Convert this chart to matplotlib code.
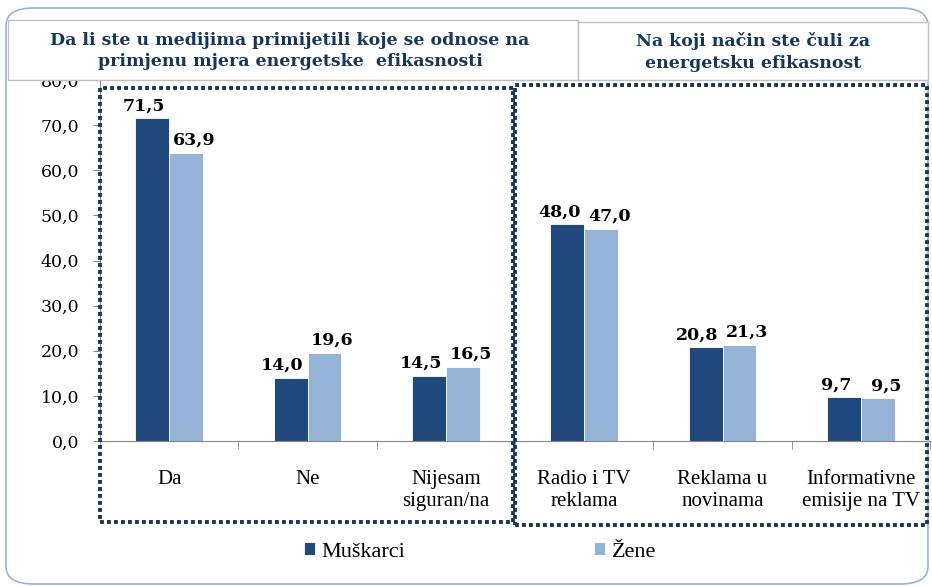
import numpy as np
import matplotlib.pyplot as plt
from matplotlib.patches import FancyBboxPatch, Rectangle

categories = ["Da", "Ne", "Nijesam\nsiguran/na", "Radio i TV\nreklama",
              "Reklama u\nnovinama", "Informativne\nemisije na TV"]
muskarci = [71.5, 14.0, 14.5, 48.0, 20.8, 9.7]
zene = [63.9, 19.6, 16.5, 47.0, 21.3, 9.5]
yticks = [0, 10, 20, 30, 40, 50, 60, 70, 80]
title_left = "Da li ste u medijima primijetili koje se odnose na\nprimjenu mjera energetske  efikasnosti"
title_right = "Na koji način ste čuli za\nenergetsku efikasnost"

dark = "#1f497d"
light = "#95b3d7"
navy = "#17365d"
W, H = 932, 587
wide = ['DejaVu Serif']

plt.rcParams['font.family'] = ['Liberation Serif', 'DejaVu Serif']

fig = plt.figure(figsize=(W / 100, H / 100), dpi=100)

def fx(px):
    return px / W

def fy(py):
    return 1 - py / H

# outer rounded frame
fig.patches.append(FancyBboxPatch((fx(6), fy(584)), fx(922), 576 / H,
                                  boxstyle="round,pad=0,rounding_size=0.03",
                                  transform=fig.transFigure, fill=False,
                                  edgecolor="#8eb4e3", linewidth=1.2, zorder=0))

ax = fig.add_axes([fx(100), fy(441), fx(830), (441 - 80) / H])
x = np.arange(len(categories))
bw = 0.245
b1 = ax.bar(x - bw / 2, muskarci, bw, color=dark, edgecolor="white", linewidth=0.6, label="Muškarci")
b2 = ax.bar(x + bw / 2, zene, bw, color=light, edgecolor="white", linewidth=0.6, label="Žene")

# value labels, nudged apart so neighbours don't collide
for bars, vals, dx in ((b1, muskarci, -8), (b2, zene, 8)):
    for r, v in zip(bars, vals):
        ax.annotate(f"{v:.1f}".replace(".", ","), (r.get_x() + r.get_width() / 2, v),
                    xytext=(dx, 4), textcoords="offset pixels",
                    ha="center", va="bottom", fontsize=12.5, fontweight="bold",
                    color="black", family=wide)

ax.set_xlim(-0.5, len(categories) - 0.5)
ax.set_ylim(0, 80)
ax.set_yticks(yticks)
ax.set_yticklabels([f"{t:.1f}".replace(".", ",") for t in yticks], fontsize=12.5, family=wide)
ax.set_xticks(x)
ax.set_xticklabels(categories, fontsize=15, linespacing=1.2)
ax.set_xticks(np.arange(-0.5, len(categories), 1), minor=True)
ax.tick_params(axis="x", which="major", length=0, pad=21)
ax.tick_params(axis="x", which="minor", length=6, color="#868686", direction="out")
ax.tick_params(axis="y", length=5, color="#868686", pad=10)
for s in ("top", "right"):
    ax.spines[s].set_visible(False)
ax.spines["left"].set_color("#868686")
ax.spines["bottom"].set_color("#868686")

# title boxes
fig.patches.append(Rectangle((fx(8), fy(80)), fx(570), 60 / H, transform=fig.transFigure,
                             facecolor="white", edgecolor="#bfbfbf", linewidth=1, zorder=5))
fig.patches.append(Rectangle((fx(578), fy(80)), fx(350), 58 / H, transform=fig.transFigure,
                             facecolor="white", edgecolor="#bfbfbf", linewidth=1, zorder=5))
fig.text(fx(290), fy(51), title_left, ha="center", va="center", fontsize=12.5,
         fontweight="bold", color=navy, zorder=6, linespacing=1.35, family=wide)
fig.text(fx(753), fy(52), title_right, ha="center", va="center", fontsize=12.5,
         fontweight="bold", color=navy, zorder=6, linespacing=1.35, family=wide)

# dotted group frames
fig.patches.append(Rectangle((fx(100), fy(522)), fx(413), 434 / H, transform=fig.transFigure,
                             fill=False, edgecolor=navy, linewidth=2.8, linestyle=(0, (1, 0.8)), zorder=7))
fig.patches.append(Rectangle((fx(515), fy(525)), fx(412), 440 / H, transform=fig.transFigure,
                             fill=False, edgecolor=navy, linewidth=2.8, linestyle=(0, (1, 0.8)), zorder=7))

fig.legend(handles=[b1, b2], labels=["Muškarci", "Žene"], loc="center",
           bbox_to_anchor=(fx(480), fy(552)), ncol=2, frameon=False, fontsize=16,
           handlelength=0.5, handleheight=0.5, handletextpad=0.3, columnspacing=8.5)

fig.savefig("out.png", dpi=100)
